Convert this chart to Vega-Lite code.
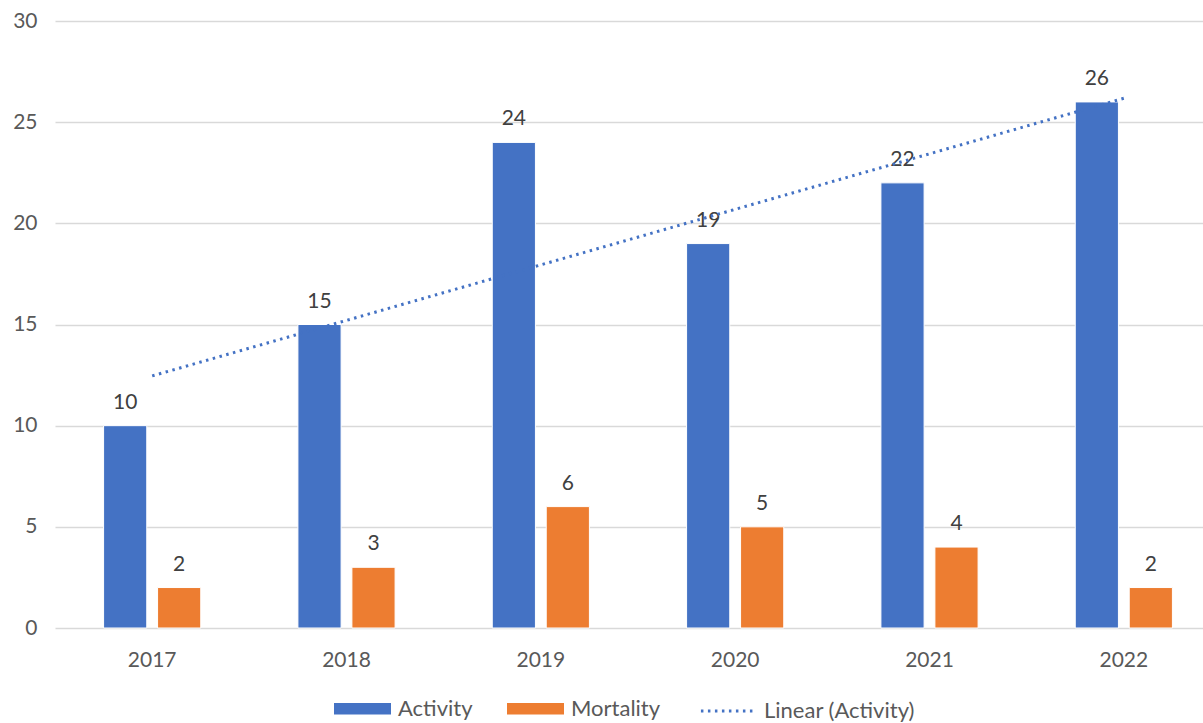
{
  "$schema": "https://vega.github.io/schema/vega-lite/v6.json",
  "width": 1148,
  "height": 607,
  "autosize": {"type": "none"},
  "padding": {"left": 55, "top": 21, "right": 0, "bottom": 95},
  "config": {
    "view": {"stroke": null},
    "font": "Lato",
    "axis": {"labelFont": "Lato", "labelColor": "#595959", "labelFontSize": 21, "domain": false, "ticks": false, "title": null}
  },
  "datasets": {
    "bars": [
      {"year": "2017", "series": "Activity", "value": 10},
      {"year": "2017", "series": "Mortality", "value": 2},
      {"year": "2018", "series": "Activity", "value": 15},
      {"year": "2018", "series": "Mortality", "value": 3},
      {"year": "2019", "series": "Activity", "value": 24},
      {"year": "2019", "series": "Mortality", "value": 6},
      {"year": "2020", "series": "Activity", "value": 19},
      {"year": "2020", "series": "Mortality", "value": 5},
      {"year": "2021", "series": "Activity", "value": 22},
      {"year": "2021", "series": "Mortality", "value": 4},
      {"year": "2022", "series": "Activity", "value": 26},
      {"year": "2022", "series": "Mortality", "value": 2}
    ],
    "trend": [
      {"year": "2017", "trend": 12.46},
      {"year": "2022", "trend": 26.18}
    ]
  },
  "layer": [
    {
      "data": {"name": "bars"},
      "mark": {"type": "bar", "stroke": "#ffffff", "strokeWidth": 1},
      "encoding": {
        "x": {"field": "year", "type": "ordinal", "scale": {"domain": ["2017", "2018", "2019", "2020", "2021", "2022"], "range": [0, 1166], "paddingInner": 0.5, "paddingOuter": 0.25}, "axis": {"labelAngle": 0, "labelPadding": 21}},
        "xOffset": {"field": "series", "type": "nominal", "scale": {"domain": ["Activity", "Mortality"], "paddingInner": 0.2, "paddingOuter": 0}},
        "y": {"field": "value", "type": "quantitative", "scale": {"domain": [0, 30]}, "axis": {"values": [0, 5, 10, 15, 20, 25, 30], "gridColor": "#D9D9D9", "gridWidth": 1.5, "labelPadding": 18}},
        "color": {
          "field": "series", "type": "nominal",
          "scale": {"domain": ["Activity", "Mortality"], "range": ["#4472C4", "#ED7D31"]},
          "legend": {
            "orient": "none", "legendX": 279, "legendY": 659, "direction": "horizontal", "title": null,
            "labelFont": "Lato", "labelFontSize": 22, "labelColor": "#595959",
            "symbolType": "M-1,-0.2H1V0.2H-1Z", "symbolSize": 3249, "symbolStrokeWidth": 0, "symbolOpacity": 1,
            "columnPadding": 34, "labelOffset": 7
          }
        }
      }
    },
    {
      "data": {"name": "bars"},
      "mark": {"type": "text", "baseline": "alphabetic", "dy": -17, "fontSize": 21, "font": "Lato", "color": "#404040"},
      "encoding": {
        "x": {"field": "year", "type": "ordinal"},
        "xOffset": {"field": "series", "type": "nominal"},
        "y": {"field": "value", "type": "quantitative"},
        "text": {"field": "value", "type": "quantitative"}
      }
    },
    {
      "data": {"name": "trend"},
      "mark": {"type": "line", "strokeWidth": 3, "color": "#4472C4"},
      "encoding": {
        "x": {"field": "year", "type": "ordinal"},
        "y": {"field": "trend", "type": "quantitative"},
        "strokeDash": {
          "datum": "Linear (Activity)", "type": "nominal",
          "scale": {"domain": ["Linear (Activity)"], "range": [[2.5, 4.5]]},
          "legend": {
            "orient": "none", "legendX": 643, "legendY": 660, "title": null,
            "labelFont": "Lato", "labelFontSize": 22, "labelColor": "#595959",
            "symbolType": "M-0.95,0H0.95", "symbolSize": 3249, "symbolStrokeColor": "#4472C4", "symbolStrokeWidth": 3,
            "labelOffset": 6
          }
        }
      }
    }
  ]
}
